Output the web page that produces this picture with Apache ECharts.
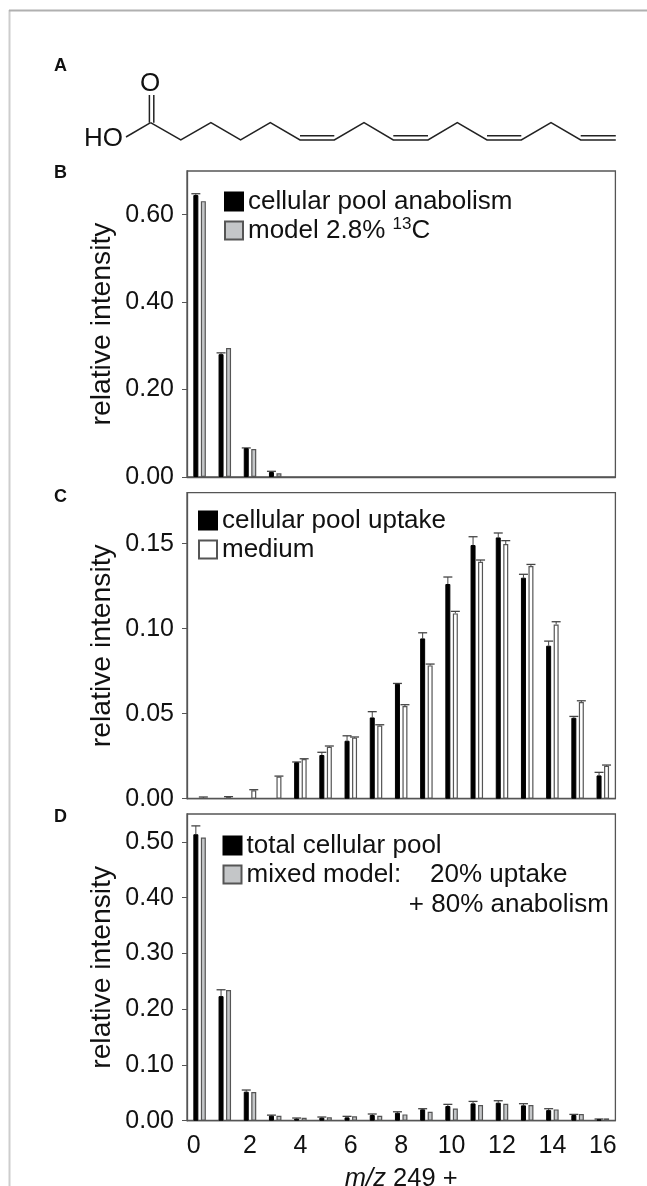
<!DOCTYPE html>
<html><head><meta charset="utf-8">
<style>html,body{margin:0;padding:0;background:#fff}#c{width:647px;height:1186px}</style>
<script src="https://cdn.jsdelivr.net/npm/echarts@6/dist/echarts.min.js"></script>
</head><body><div id="c"></div>
<script>
const categories = ['0','1','2','3','4','5','6','7','8','9','10','11','12','13','14','15','16'];

const bBlack = [0.645,0.281,0.066,0.0114,0,0,0,0,0,0,0,0,0,0,0,0,0];
const bBlackTop = [0.648,0.284,0.0665,0.013,0,0,0,0,0,0,0,0,0,0,0,0,0];
const bGray = [0.631,0.295,0.064,0.0084,0,0,0,0,0,0,0,0,0,0,0,0,0];

const cBlack = [0,0,0,0,0.0214,0.0257,0.0341,0.0478,0.0676,0.0943,0.1263,0.1492,0.1537,0.13,0.09,0.0476,0.0137];
const cBlackTop = [0,0,0,0,0.0216,0.0273,0.037,0.0512,0.0678,0.0976,0.1304,0.1541,0.1563,0.132,0.0927,0.0484,0.0155];
const cWhite = [0.0005,0.001,0.005,0.013,0.0233,0.0306,0.0359,0.0431,0.0545,0.0784,0.109,0.1394,0.1498,0.1369,0.1025,0.0569,0.0194];
const cWhiteTop = [0.001,0.0012,0.0053,0.0133,0.0235,0.031,0.0363,0.0435,0.0553,0.0792,0.1102,0.1404,0.1518,0.1378,0.1041,0.0576,0.0198];

const dBlack = [0.5137,0.2234,0.052,0.009,0.0036,0.0054,0.006,0.0102,0.0143,0.0203,0.0263,0.031,0.0323,0.0275,0.019,0.0102,0.0024];
const dBlackTop = [0.5287,0.2348,0.055,0.01,0.0048,0.0066,0.0078,0.012,0.016,0.0215,0.0293,0.0346,0.0358,0.0305,0.0215,0.0113,0.003];
const dGray = [0.5078,0.2342,0.0514,0.009,0.0054,0.006,0.0078,0.009,0.0113,0.016,0.022,0.028,0.0305,0.028,0.0203,0.012,0.0042];

const bTicks = ['0.00','0.20','0.40','0.60'];
const cTicks = ['0.00','0.05','0.10','0.15'];
const dTicks = ['0.00','0.10','0.20','0.30','0.40','0.50'];

const FONT = '"Liberation Sans", Arial, sans-serif';
const INK = '#111', AXIS = '#555';
const BAR_W = 5, BAR_GAP = '50%', OFFSET = 3.75, CAP = 9;
const panels = [
  {top:171, bottom:477, max:0.70, ticks:bTicks, a:bBlack, aTop:bBlackTop, b:bGray, bTop:null, fill:'#c4c6c8',
   names:['cellular pool anabolism','model 2.8% ¹³C'], legend:{left:224,top:187}},
  {top:492.7, bottom:798.7, max:0.18, ticks:cTicks, a:cBlack, aTop:cBlackTop, b:cWhite, bTop:cWhiteTop, fill:'#ffffff',
   names:['cellular pool uptake','medium'], legend:{left:198,top:506}},
  {top:814, bottom:1120.7, max:0.55, ticks:dTicks, a:dBlack, aTop:dBlackTop, b:dGray, bTop:null, fill:'#c4c6c8',
   names:['total cellular pool','mixed model:    20% uptake'], legend:{left:222.5,top:831}}
];

function errSeries(values, tops, offset, idx, name){
  return {
    type:'custom', name, xAxisIndex:idx, yAxisIndex:idx, silent:true, clip:false, z:1,
    encode:{x:0,y:1},
    data: tops.map((t,i)=>[i,t,values[i]]).filter(r=>r[1]>0),
    renderItem(params, api){
      const top = api.coord([api.value(0), api.value(1)]);
      const base = api.coord([api.value(0), api.value(2)]);
      const x = top[0] + offset;
      const style = {stroke:'#444', lineWidth:1, fill:null};
      return {type:'group', children:[
        {type:'line', shape:{x1:x,y1:top[1],x2:x,y2:base[1]}, style},
        {type:'line', shape:{x1:x-CAP/2,y1:top[1],x2:x+CAP/2,y2:top[1]}, style:{stroke:'#444',lineWidth:1.3}}
      ]};
    }
  };
}

const grid=[], xAxis=[], yAxis=[], series=[], legend=[];
panels.forEach((p,i)=>{
  grid.push({left:187, width:428.4, top:p.top, height:p.bottom-p.top, show:true, outerBoundsMode:'none', borderColor:AXIS, borderWidth:1.3, backgroundColor:'transparent'});
  const last = i===panels.length-1;
  xAxis.push({
    type:'category', gridIndex:i, data:categories,
    boundaryGap:true,
    axisLine:{lineStyle:{color:AXIS,width:1.3}},
    axisTick:{alignWithLabel:true, interval:1, length:5, lineStyle:{color:AXIS,width:1}},
    axisLabel:{show:last, interval:1, margin:13, color:INK, fontSize:25, fontFamily:FONT, hideOverlap:false,
      formatter:v=>v==='0'?'{z|0}':v,
      rich:{z:{fontSize:25,fontFamily:FONT,color:INK,padding:[0,12,0,0]}}},
    name: last ? '{i|m/z}{n| 249 +}' : '',
    nameLocation:'middle', nameGap:45.5, nameMoveOverlap:false,
    nameTextStyle:{rich:{
      i:{fontStyle:'italic',fontSize:25.5,fontFamily:FONT,color:INK},
      n:{fontSize:25.5,fontFamily:FONT,color:INK}}}
  });
  const tickVals = p.ticks.map(Number);
  yAxis.push({
    type:'value', gridIndex:i, min:0, max:p.max,
    axisLine:{show:true,lineStyle:{color:AXIS,width:1.3}},
    axisTick:{show:true,length:5,lineStyle:{color:AXIS,width:1},customValues:tickVals},
    axisLabel:{margin:13,color:INK,fontSize:25,fontFamily:FONT,customValues:tickVals,
      formatter:v=>p.ticks[tickVals.findIndex(t=>Math.abs(t-v)<1e-9)]||''},
    splitLine:{show:false},
    name:'relative intensity', nameLocation:'middle', nameRotate:90, nameGap:71, nameMoveOverlap:false,
    nameTextStyle:{color:INK,fontSize:28.3,fontFamily:FONT}
  });
  series.push({type:'bar',name:p.names[0],xAxisIndex:i,yAxisIndex:i,data:p.a.map(v=>v||null),barWidth:BAR_W,barGap:BAR_GAP,
    itemStyle:{color:'#000',borderColor:'#000',borderWidth:1},silent:true,z:2});
  series.push({type:'bar',name:p.names[1],xAxisIndex:i,yAxisIndex:i,data:p.b.map(v=>v||null),barWidth:BAR_W,barGap:BAR_GAP,
    itemStyle:{color:p.fill,borderColor:'#555',borderWidth:1.2},silent:true,z:2});
  series.push(errSeries(p.a,p.aTop,-OFFSET,i,'error '+p.names[0]));
  if(p.bTop) series.push(errSeries(p.b,p.bTop,OFFSET,i,'error '+p.names[1]));
  legend.push({
    orient:'vertical', left:p.legend.left, top:p.legend.top, padding:0,
    data:p.names, icon:'rect', itemWidth:18, itemHeight:18, itemGap:0,
    selectedMode:false, backgroundColor:'transparent',
    formatter:n=>n.includes('¹³')?'{t|model 2.8% }{s|13}{t|C}':n,
    textStyle:{color:INK,fontSize:26,fontFamily:FONT,lineHeight:29,
      rich:{t:{fontSize:26,fontFamily:FONT,color:INK,lineHeight:29},
            s:{fontSize:17,fontFamily:FONT,color:INK,lineHeight:29,verticalAlign:'top',padding:[0,0,8,0]}}}
  });
});

const chain=[[150.6,122.7],[180.8,140],[210.9,122.7],[240.6,140],[270.3,122.7],[300,140],[334.3,140],[364,122.7],[393.3,140],[428,140],[457.3,122.7],[487,140],[521.3,140],[551,122.7],[580.7,140],[615.8,140]];
const stroke={stroke:'#222',lineWidth:1.5,fill:null};
const line=(a,b,c,d)=>({type:'line',shape:{x1:a,y1:b,x2:c,y2:d},style:stroke,silent:true});
const lbl=(t,x,y)=>({type:'text',x,y,style:{text:t,fill:'#111',font:'bold 18px '+FONT,textVerticalAlign:'middle'},silent:true});
const graphic=[
  {type:'line',shape:{x1:9.5,y1:10,x2:9.5,y2:1186},style:{stroke:'#cdcdcd',lineWidth:2},silent:true},
  {type:'line',shape:{x1:9,y1:10.5,x2:647,y2:10.5},style:{stroke:'#b0b0b0',lineWidth:2},silent:true},
  {type:'polyline',shape:{points:chain},style:stroke,silent:true},
  line(126,137,150.6,122.7),
  line(149.4,95,149.4,122.7), line(153.8,95,153.8,122.7),
  line(300,135.8,334.3,135.8), line(393.3,135.8,428,135.8), line(487,135.8,521.3,135.8), line(580.7,135.8,615.8,135.8),
  {type:'text',x:84,y:139,style:{text:'HO',fill:'#111',font:'26px '+FONT,textVerticalAlign:'middle'},silent:true},
  {type:'text',x:140,y:83.5,style:{text:'O',fill:'#111',font:'26px '+FONT,textVerticalAlign:'middle'},silent:true},
  lbl('A',54,66.5), lbl('B',54,173), lbl('C',54,497), lbl('D',54,817),
  {type:'text',x:609,y:905,style:{text:'+ 80% anabolism',fill:INK,font:'26px '+FONT,textAlign:'right',textVerticalAlign:'middle'},silent:true}
];

const chart=echarts.init(document.getElementById('c'),null,{renderer:'canvas'});
chart.setOption({animation:false,backgroundColor:'#fff',grid,xAxis,yAxis,series,legend,graphic});
</script></body></html>
